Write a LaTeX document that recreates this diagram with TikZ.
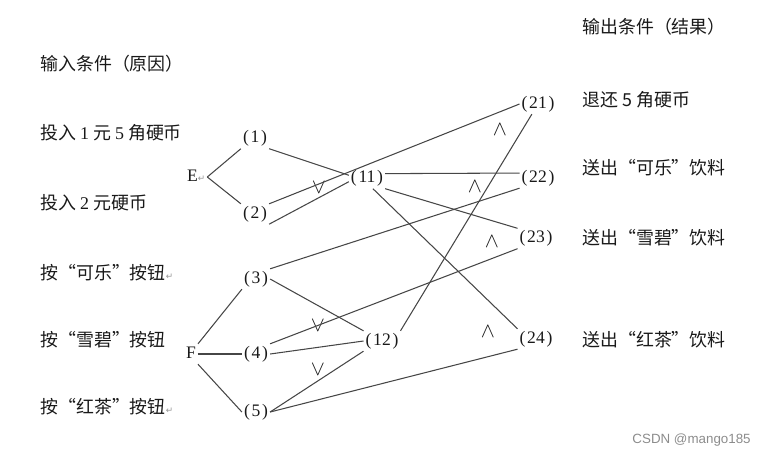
\documentclass[tikz,border=0pt]{standalone}
\usepackage{fontspec}
\setmainfont{Liberation Serif}
\newfontfamily\cjk{Noto Sans CJK SC}
\newfontfamily\symfont{DejaVu Sans}
\newfontfamily\wmfont{Liberation Sans}
\usetikzlibrary{positioning}
\definecolor{lnclr}{RGB}{70,70,70}
\definecolor{txtclr}{RGB}{25,25,25}
\definecolor{mkclr}{RGB}{150,150,150}
\definecolor{wmclr}{RGB}{140,140,140}
\newcommand{\ret}{{\color{mkclr}\symfont\fontsize{5}{5}\selectfont ↵}}
\newcommand{\nlab}[1]{(\kern1pt#1\kern1pt)}

\begin{document}
\begin{tikzpicture}[x=0.02cm, y=-0.02cm,
  lbl/.style={anchor=west, inner sep=0pt, text=txtclr,
              font=\cjk\fontsize{10.2}{12}\selectfont},
  num/.style={inner sep=1pt, text=txtclr, font=\fontsize{10}{12}\selectfont,
              text height=7pt, text depth=2.2pt},
  gate/.style={inner sep=0pt, text=txtclr, font=\fontsize{12.5}{14}\selectfont},
  wire/.style={draw=lnclr, line width=0.6pt}
]
\useasboundingbox (0,0) rectangle (766,457);

% Causes
\node[lbl] (cin) at (40,64)  {输入条件（原因）};
\node[lbl] (c1)  at (40,133) {投入 {\rmfamily 1} 元 {\rmfamily 5} 角硬币};
\node[lbl] (c2)  at (40,203) {投入 {\rmfamily 2} 元硬币};
\node[lbl] (c3)  at (40,273) {按“可乐”按钮\ret};
\node[lbl] (c4)  at (40,340) {按“雪碧”按钮};
\node[lbl] (c5)  at (40,407) {按“红茶”按钮\ret};

% Effects
\node[lbl] (eout) at (582,27)  {输出条件（结果）};
\node[lbl] (e21)  at (582,100) {退还 5 角硬币};
\node[lbl] (e22)  at (582,168) {送出“可乐”饮料};
\node[lbl] (e23)  at (582,238) {送出“雪碧”饮料};
\node[lbl] (e24)  at (582,340) {送出“红茶”饮料};

% Graph nodes
\node[num, anchor=west] (E) at (185,177) {E\ret};
\node[num] (F) at (191,354) {F};
\node[num] (n1)  at (255,138.5) {\nlab{1}};
\node[num] (n2)  at (255,214)   {\nlab{2}};
\node[num] (n3)  at (256,279)   {\nlab{3}};
\node[num] (n4)  at (256,354)   {\nlab{4}};
\node[num] (n5)  at (256,412)   {\nlab{5}};
\node[num] (n11) at (367,178.5) {\nlab{11}};
\node[num] (n12) at (382,341)   {\nlab{12}};
\node[num] (n21) at (538,104)   {\nlab{21}};
\node[num] (n22) at (538,178)   {\nlab{22}};
\node[num] (n23) at (536,238.5) {\nlab{23}};
\node[num] (n24) at (536,339)   {\nlab{24}};

% Gate marks
\node[gate] (or1)  at (319,188) {$\vee$};
\node[gate] (or2)  at (318,326) {$\vee$};
\node[gate] (or3)  at (318,370) {$\vee$};
\node[gate] (and1) at (500,130) {$\wedge$};
\node[gate] (and2) at (475,187) {$\wedge$};
\node[gate] (and3) at (492,242) {$\wedge$};
\node[gate] (and4) at (488,332) {$\wedge$};

% Connectors
\draw[wire] (E.east) -- (n1.south west);
\draw[wire] (E.east) -- (n2.north west);
\draw[wire] (n1.south east) -- (n11.170);
\draw[wire] (n2.north east) -- (n21.west);
\draw[wire] (n2.south east) -- (n11.190);
\draw[wire] (F.north east) -- (n3.south west);
\draw[wire] (F.east) -- (n4.west);
\draw[wire] (F.south east) -- (n5.west);
\draw[wire] (n3.north east) -- (n22.south west);
\draw[wire] (n3.east) -- (n12.north west);
\draw[wire] (n4.north east) -- (n23.south west);
\draw[wire] (n4.east) -- (n12.west);
\draw[wire] (n5.east) -- (n12.south west);
\draw[wire] (n5.east) -- (n24.south west);
\draw[wire] (n12.north east) -- (n21);
\draw[wire] (n11.15) -- (n22.165);
\draw[wire] (n11.south east) -- (n23.north west);
\draw[wire] (n11.-60) -- (n24.north west);

\node[anchor=east, inner sep=0pt, text=wmclr, font=\wmfont\fontsize{7.6}{9}\selectfont]
  (wm) at (751,440) {CSDN @mango185};
\end{tikzpicture}
\end{document}
